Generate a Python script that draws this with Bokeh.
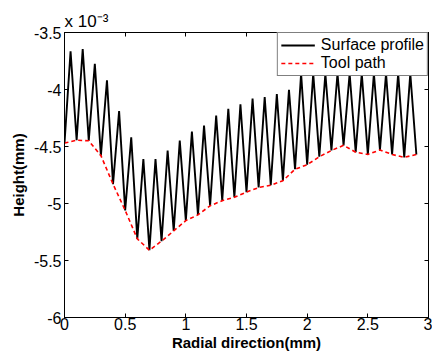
from bokeh.plotting import figure
from bokeh.models import Range1d, LinearAxis, Legend, LegendItem, FixedTicker
from bokeh.embed import file_html
from bokeh.resources import INLINE

# Tool path points: radial position (mm) and height (x 10^-3 mm)
tool_x = [0.0, 0.1, 0.2, 0.3, 0.4, 0.5, 0.6, 0.7, 0.8, 0.9,
          1.0, 1.1, 1.2, 1.3, 1.4, 1.5, 1.6, 1.7, 1.8, 1.9,
          2.0, 2.1, 2.2, 2.3, 2.4, 2.5, 2.6, 2.7, 2.8, 2.9]
tool_y = [-4.47, -4.445, -4.45, -4.58, -4.83, -5.06, -5.31, -5.41, -5.33, -5.24,
          -5.15, -5.10, -5.02, -4.975, -4.945, -4.90, -4.86, -4.84, -4.80, -4.70,
          -4.66, -4.59, -4.535, -4.49, -4.55, -4.57, -4.53, -4.57, -4.595, -4.57]

# Cusp peaks of the surface profile: radial position (mm) and height (x 10^-3 mm)
peak_x = [0.05, 0.15, 0.25, 0.35, 0.45, 0.55, 0.65, 0.75, 0.85, 0.95,
          1.05, 1.15, 1.25, 1.35, 1.45, 1.55, 1.65, 1.75, 1.85, 1.95,
          2.05, 2.15, 2.25, 2.35, 2.45, 2.55, 2.65, 2.75, 2.85]
peak_y = [-3.665, -3.645, -3.775, -3.92, -4.19, -4.42, -4.61, -4.61, -4.535, -4.447,
          -4.37, -4.316, -4.228, -4.17, -4.13, -4.08, -4.067, -4.04, -4.003, -3.86,
          -3.86, -3.86, -3.86, -3.86, -3.86, -3.86, -3.86, -3.86, -3.86]

x_ticks = [0, 0.5, 1, 1.5, 2, 2.5, 3]
x_tick_labels = ["0", "0.5", "1", "1.5", "2", "2.5", "3"]
y_ticks = [-6, -5.5, -5, -4.5, -4, -3.5]
y_tick_labels = ["-6", "-5.5", "-5", "-4.5", "-4", "-3.5"]

# surface profile: alternate troughs (tool path points) and cusp peaks
surf_x, surf_y = [], []
for i in range(len(peak_x)):
    surf_x += [tool_x[i], peak_x[i]]
    surf_y += [tool_y[i], peak_y[i]]
surf_x.append(tool_x[-1])
surf_y.append(tool_y[-1])

FONT = "Liberation Sans"

p = figure(width=432, height=358, output_backend="svg", toolbar_location=None,
           x_range=Range1d(0, 3), y_range=Range1d(-6, -3.5),
           min_border_left=64, min_border_right=4, min_border_top=32, min_border_bottom=41)
p.background_fill_color = "white"
p.border_fill_color = "white"
p.outline_line_color = "black"
p.outline_line_width = 1
p.xgrid.visible = False
p.ygrid.visible = False

def style_axis(ax, ticks, labels, show_labels):
    ax.ticker = FixedTicker(ticks=ticks)
    if show_labels:
        ax.major_label_overrides = {t: l for t, l in zip(ticks, labels)}
    else:
        ax.major_label_overrides = {t: "" for t in ticks}
        ax.major_label_standoff = 0
    ax.major_tick_in = 4
    ax.major_tick_out = 0
    ax.minor_tick_line_color = None
    ax.axis_line_color = "black"
    ax.major_tick_line_color = "black"
    ax.major_label_text_font = FONT
    ax.major_label_text_color = "black"

style_axis(p.xaxis[0], x_ticks, x_tick_labels, True)
style_axis(p.yaxis[0], y_ticks, y_tick_labels, True)
p.xaxis[0].major_label_text_font_size = "16px"
p.yaxis[0].major_label_text_font_size = "16px"
p.xaxis[0].major_label_standoff = 0
p.yaxis[0].major_label_standoff = 3
p.xaxis[0].axis_label = "Radial direction(mm)"
p.yaxis[0].axis_label = "Height(mm)"
for ax in (p.xaxis[0], p.yaxis[0]):
    ax.axis_label_text_font = FONT
    ax.axis_label_text_font_size = "15px"
    ax.axis_label_text_font_style = "bold"
    ax.axis_label_text_color = "black"
p.xaxis[0].axis_label_standoff = 1
p.yaxis[0].axis_label_standoff = 4

top_ax = LinearAxis()
style_axis(top_ax, x_ticks, x_tick_labels, False)
p.add_layout(top_ax, "above")
right_ax = LinearAxis()
style_axis(right_ax, y_ticks, y_tick_labels, False)
p.add_layout(right_ax, "right")

# axis multiplier, as a left-aligned title just above the frame
p.title.text = "x 10\u207b\u00b3"
p.title.align = "left"
p.title.text_font = FONT
p.title.text_font_size = "17px"
p.title.text_font_style = "normal"
p.title.text_color = "black"
p.title.standoff = 4
p.title.offset = 0

r_surf = p.line(surf_x, surf_y, line_color="black", line_width=1.9)
r_tool = p.line(tool_x, tool_y, line_color="#ff0000", line_width=1.6, line_dash="4 3")

legend = Legend(items=[LegendItem(label="Surface profile", renderers=[r_surf]),
                       LegendItem(label="Tool path", renderers=[r_tool])],
                location="top_right", margin=0, padding=3, spacing=0,
                glyph_width=34, glyph_height=16, label_height=16, label_standoff=6,
                label_text_font=FONT, label_text_font_size="16px", label_text_color="black",
                border_line_color="black", border_line_width=1,
                background_fill_color="white", background_fill_alpha=1.0)
p.add_layout(legend, "center")

open("out.html", "w").write(file_html(p, INLINE))
